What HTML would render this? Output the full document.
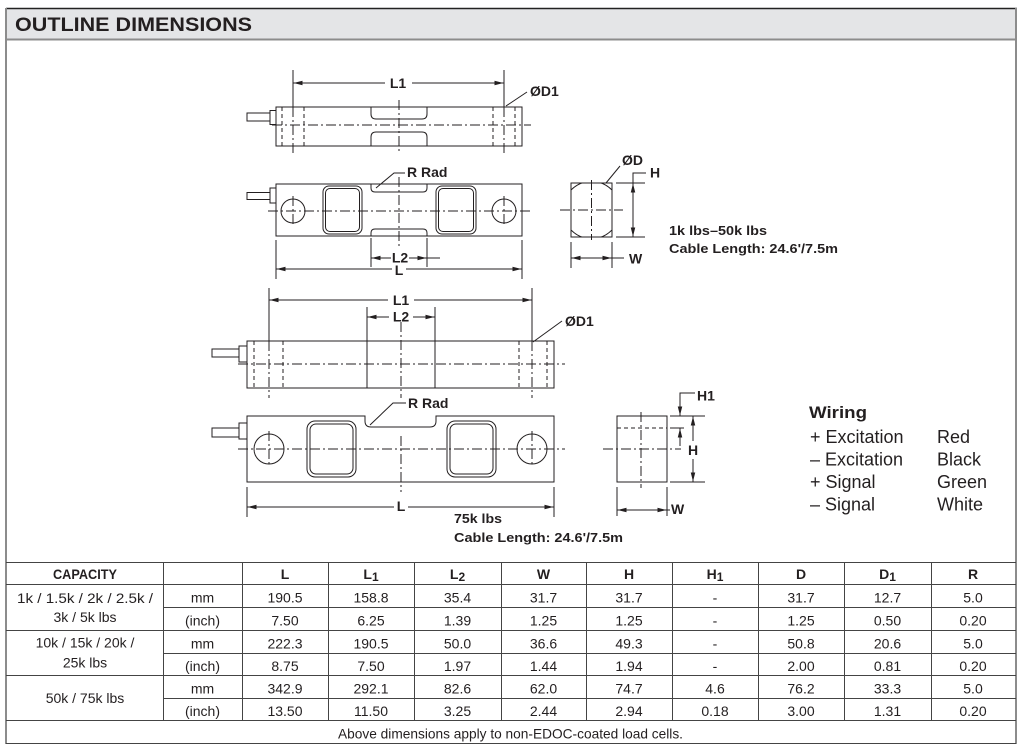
<!DOCTYPE html>
<html><head><meta charset="utf-8"><style>
html,body{margin:0;padding:0;background:#fff;width:1021px;height:750px;overflow:hidden}
svg{display:block}
text{font-family:"Liberation Sans",Arial,sans-serif;fill:#231f20}
.b{font-weight:bold}
.ln line,.ln rect,.ln path,.ln circle,.ln polyline{stroke:#231f20;stroke-width:1;fill:none}
.ln .cl{stroke-dasharray:10 3 2 3}
.ln .hd{stroke-dasharray:4 3}
.tl line{stroke:#444;stroke-width:1}
</style></head><body>
<svg width="1021" height="750" viewBox="0 0 1021 750" xmlns="http://www.w3.org/2000/svg">
<defs>
<marker id="a" viewBox="0 0 10 6" refX="10" refY="3" markerWidth="9" markerHeight="5.4" markerUnits="userSpaceOnUse" orient="auto"><path d="M0,0.5 L10,3 L0,5.5 z" fill="#231f20" stroke="none"/></marker>
<clipPath id="c1"><rect x="571" y="183" width="41" height="54"/></clipPath>
</defs>

<!-- header -->
<rect x="6" y="8.5" width="1010" height="30.5" fill="#e4e5e7"/>
<line x1="6" y1="8.5" x2="1017" y2="8.5" stroke="#222" stroke-width="1.5"/>
<line x1="6" y1="39.5" x2="1017" y2="39.5" stroke="#8c8c8c" stroke-width="2"/>
<line x1="6" y1="8" x2="6" y2="744" stroke="#8c8c8c" stroke-width="2"/>
<line x1="1016" y1="8" x2="1016" y2="744" stroke="#8c8c8c" stroke-width="2"/>
<text x="15" y="31" class="b" font-size="19" textLength="237" lengthAdjust="spacingAndGlyphs">OUTLINE DIMENSIONS</text>

<g class="ln">
<!-- ===== Drawing 1: top view ===== -->
<line x1="293" y1="70" x2="293" y2="107"/><line x1="293" y1="107" x2="293" y2="153" class="cl"/>
<line x1="504" y1="70" x2="504" y2="107"/><line x1="504" y1="107" x2="504" y2="153" class="cl"/>
<line x1="385" y1="83" x2="293.5" y2="83" marker-end="url(#a)"/>
<line x1="412" y1="83" x2="503.5" y2="83" marker-end="url(#a)"/>
<rect x="276" y="107" width="246" height="39"/>
<rect x="247" y="113" width="23" height="8"/>
<rect x="270" y="110.5" width="6" height="14"/>
<line x1="282" y1="107" x2="282" y2="146" class="hd"/>
<line x1="304" y1="107" x2="304" y2="146" class="hd"/>
<line x1="493" y1="107" x2="493" y2="146" class="hd"/>
<line x1="515" y1="107" x2="515" y2="146" class="hd"/>
<path d="M371,107 V114 Q371,119 376,119 H422 Q427,119 427,114 V107"/>
<path d="M371,146 V137 Q371,132 376,132 H422 Q427,132 427,137 V146"/>
<line x1="272" y1="125" x2="531" y2="125" class="cl"/>
<line x1="399" y1="100" x2="399" y2="153" class="cl"/>
<line x1="527" y1="92" x2="506" y2="106"/>

<!-- ===== Drawing 2: side view ===== -->
<rect x="276" y="184" width="246" height="52"/>
<path d="M371,184 V188 Q371,192 375,192 H423 Q427,192 427,188 V184"/>
<path d="M371,236 V233 Q371,229 375,229 H423 Q427,229 427,233 V236"/>
<rect x="247" y="192.5" width="23" height="7"/>
<rect x="270" y="188" width="6" height="15"/>
<rect x="323" y="186" width="39" height="48" rx="6"/>
<rect x="325.5" y="188.5" width="34" height="43" rx="4.5"/>
<rect x="436" y="186" width="40" height="48" rx="6"/>
<rect x="438.5" y="188.5" width="35" height="43" rx="4.5"/>
<circle cx="293" cy="211" r="12"/>
<circle cx="504" cy="211" r="12"/>
<line x1="293" y1="196" x2="293" y2="226" class="cl"/>
<line x1="504" y1="196" x2="504" y2="226" class="cl"/>
<line x1="268" y1="211" x2="532" y2="211" class="cl"/>
<line x1="399" y1="177" x2="399" y2="247" class="cl"/>
<polyline points="405,173 394,173 376,188"/>
<line x1="371" y1="238" x2="371" y2="267"/>
<line x1="427" y1="238" x2="427" y2="267"/>
<line x1="391" y1="258" x2="371.5" y2="258" marker-end="url(#a)"/>
<line x1="409" y1="258" x2="426.5" y2="258" marker-end="url(#a)"/>
<line x1="427" y1="258" x2="440" y2="258"/>
<line x1="276" y1="240" x2="276" y2="279"/>
<line x1="522" y1="240" x2="522" y2="279"/>
<line x1="392" y1="269" x2="276.5" y2="269" marker-end="url(#a)"/>
<line x1="406" y1="269" x2="521.5" y2="269" marker-end="url(#a)"/>

<!-- ===== Cross-section 1 ===== -->
<rect x="571" y="183" width="41" height="54"/>
<circle cx="591.5" cy="210" r="28.6" clip-path="url(#c1)"/>
<line x1="560" y1="210" x2="623" y2="210" class="cl"/>
<line x1="591.5" y1="180" x2="591.5" y2="240" class="cl"/>
<line x1="620" y1="166" x2="606" y2="183"/>
<line x1="616" y1="183" x2="645" y2="183"/>
<line x1="616" y1="237" x2="645" y2="237"/>
<polyline points="646,173 633,173 633,183"/>
<line x1="633" y1="210" x2="633" y2="183.5" marker-end="url(#a)"/>
<line x1="633" y1="210" x2="633" y2="236.5" marker-end="url(#a)"/>
<line x1="571" y1="242" x2="571" y2="268"/>
<line x1="612" y1="242" x2="612" y2="268"/>
<line x1="591" y1="258" x2="571.5" y2="258" marker-end="url(#a)"/>
<line x1="591" y1="258" x2="611.5" y2="258" marker-end="url(#a)"/>
<line x1="612" y1="258" x2="624" y2="258"/>

<!-- ===== Drawing 3: 75k top view ===== -->
<line x1="269" y1="288" x2="269" y2="341"/><line x1="269" y1="341" x2="269" y2="398" class="cl"/>
<line x1="532" y1="288" x2="532" y2="341"/><line x1="532" y1="341" x2="532" y2="398" class="cl"/>
<line x1="388" y1="300" x2="269.5" y2="300" marker-end="url(#a)"/>
<line x1="414" y1="300" x2="531.5" y2="300" marker-end="url(#a)"/>
<line x1="367" y1="307" x2="367" y2="388"/>
<line x1="435" y1="307" x2="435" y2="388"/>
<line x1="389" y1="317" x2="367.5" y2="317" marker-end="url(#a)"/>
<line x1="413" y1="317" x2="434.5" y2="317" marker-end="url(#a)"/>
<rect x="247" y="341" width="307" height="47"/>
<rect x="212" y="349" width="27" height="8"/>
<rect x="239" y="346" width="8" height="16"/>
<line x1="254" y1="341" x2="254" y2="388" class="hd"/>
<line x1="283" y1="341" x2="283" y2="388" class="hd"/>
<line x1="519" y1="341" x2="519" y2="388" class="hd"/>
<line x1="547" y1="341" x2="547" y2="388" class="hd"/>
<line x1="238" y1="364" x2="565" y2="364" class="cl"/>
<line x1="401" y1="322" x2="401" y2="398" class="cl"/>
<line x1="562" y1="321" x2="533" y2="342"/>

<!-- ===== Drawing 4: 75k side view ===== -->
<path d="M247,416 H365 V421 Q365,427 371,427 H430 Q436,427 436,421 V416 H554 V482 H247 Z"/>
<rect x="212" y="428" width="27" height="9"/>
<rect x="239" y="423" width="8" height="16"/>
<circle cx="269" cy="449" r="15"/>
<circle cx="532" cy="449" r="15"/>
<line x1="269" y1="431" x2="269" y2="467" class="cl"/>
<line x1="532" y1="431" x2="532" y2="467" class="cl"/>
<rect x="307" y="421" width="49" height="56" rx="8"/>
<rect x="310" y="424" width="43" height="50" rx="6"/>
<rect x="447" y="421" width="49" height="56" rx="8"/>
<rect x="450" y="424" width="43" height="50" rx="6"/>
<line x1="238" y1="449" x2="565" y2="449" class="cl"/>
<line x1="401" y1="436" x2="401" y2="492" class="cl"/>
<polyline points="406,403 393,403 370,425"/>
<line x1="247" y1="487" x2="247" y2="517"/>
<line x1="554" y1="487" x2="554" y2="517"/>
<line x1="394" y1="507" x2="247.5" y2="507" marker-end="url(#a)"/>
<line x1="408" y1="507" x2="553.5" y2="507" marker-end="url(#a)"/>

<!-- ===== Cross-section 2 ===== -->
<rect x="617" y="416" width="50" height="66"/>
<line x1="617" y1="428" x2="667" y2="428" class="hd"/>
<line x1="603" y1="449" x2="681" y2="449" class="cl"/>
<line x1="641" y1="412" x2="641" y2="488" class="cl"/>
<line x1="670" y1="416" x2="705" y2="416"/>
<line x1="670" y1="428" x2="684" y2="428"/>
<line x1="670" y1="482" x2="705" y2="482"/>
<polyline points="695,393 680,393 680,400"/>
<line x1="680" y1="398" x2="680" y2="415.5" marker-end="url(#a)"/>
<line x1="680" y1="446" x2="680" y2="428.5" marker-end="url(#a)"/>
<line x1="693" y1="441" x2="693" y2="416.5" marker-end="url(#a)"/>
<line x1="693" y1="459" x2="693" y2="481.5" marker-end="url(#a)"/>
<line x1="617" y1="487" x2="617" y2="516"/>
<line x1="667" y1="487" x2="667" y2="516"/>
<line x1="642" y1="510" x2="617.5" y2="510" marker-end="url(#a)"/>
<line x1="642" y1="510" x2="666.5" y2="510" marker-end="url(#a)"/>
<line x1="667" y1="510" x2="670" y2="510"/>
</g>

<!-- drawing labels -->
<g class="b" font-size="14">
<text x="398" y="88" text-anchor="middle">L1</text>
<text x="530" y="96">ØD1</text>
<text x="407" y="177">R Rad</text>
<text x="400" y="262.5" text-anchor="middle">L2</text>
<text x="399" y="275" text-anchor="middle">L</text>
<text x="622" y="165">ØD</text>
<text x="650" y="177.5">H</text>
<text x="629" y="263.5">W</text>
<text x="669" y="235" font-size="13" textLength="98" lengthAdjust="spacingAndGlyphs">1k lbs–50k lbs</text>
<text x="669" y="253" font-size="13" textLength="169" lengthAdjust="spacingAndGlyphs">Cable Length: 24.6'/7.5m</text>
<text x="401" y="305" text-anchor="middle">L1</text>
<text x="401" y="321.5" text-anchor="middle">L2</text>
<text x="565" y="326">ØD1</text>
<text x="408" y="408">R Rad</text>
<text x="401" y="511" text-anchor="middle">L</text>
<text x="454" y="523" font-size="13" textLength="48" lengthAdjust="spacingAndGlyphs">75k lbs</text>
<text x="454" y="542" font-size="13" textLength="169" lengthAdjust="spacingAndGlyphs">Cable Length: 24.6'/7.5m</text>
<text x="697" y="400.5">H1</text>
<text x="688" y="455">H</text>
<text x="671" y="514">W</text>
</g>

<!-- wiring -->
<text x="809" y="418" class="b" font-size="17" textLength="58" lengthAdjust="spacingAndGlyphs">Wiring</text>
<g font-size="18">
<text x="810" y="443">+ Excitation</text>
<text x="810" y="465.5">– Excitation</text>
<text x="810" y="488">+ Signal</text>
<text x="810" y="510.5">– Signal</text>
<text x="937" y="443">Red</text>
<text x="937" y="465.5">Black</text>
<text x="937" y="488">Green</text>
<text x="937" y="510.5">White</text>
</g>

<!-- table -->
<g class="tl">
<line x1="6" y1="562.5" x2="1016" y2="562.5"/>
<line x1="6" y1="584.5" x2="1016" y2="584.5"/>
<line x1="163" y1="607.5" x2="1016" y2="607.5"/>
<line x1="6" y1="630.5" x2="1016" y2="630.5"/>
<line x1="163" y1="653.5" x2="1016" y2="653.5"/>
<line x1="6" y1="675.5" x2="1016" y2="675.5"/>
<line x1="163" y1="698.5" x2="1016" y2="698.5"/>
<line x1="6" y1="720.5" x2="1016" y2="720.5"/>
<line x1="6" y1="743.5" x2="1016" y2="743.5"/>
<line x1="163.5" y1="562" x2="163.5" y2="720"/>
<line x1="242.5" y1="562" x2="242.5" y2="720"/>
<line x1="328.5" y1="562" x2="328.5" y2="720"/>
<line x1="414.5" y1="562" x2="414.5" y2="720"/>
<line x1="501.5" y1="562" x2="501.5" y2="720"/>
<line x1="586.5" y1="562" x2="586.5" y2="720"/>
<line x1="672.5" y1="562" x2="672.5" y2="720"/>
<line x1="758.5" y1="562" x2="758.5" y2="720"/>
<line x1="844.5" y1="562" x2="844.5" y2="720"/>
<line x1="931.5" y1="562" x2="931.5" y2="720"/>
</g>
<g class="b" font-size="14" text-anchor="middle">
<text x="85" y="579" textLength="64" lengthAdjust="spacingAndGlyphs">CAPACITY</text>
<text x="285" y="579">L</text>
<text x="371" y="579">L<tspan font-size="12" dy="2">1</tspan></text>
<text x="457.5" y="579">L<tspan font-size="12" dy="2">2</tspan></text>
<text x="543.5" y="579">W</text>
<text x="629" y="579">H</text>
<text x="715" y="579">H<tspan font-size="12" dy="2">1</tspan></text>
<text x="801" y="579">D</text>
<text x="887.5" y="579">D<tspan font-size="12" dy="2">1</tspan></text>
<text x="973" y="579">R</text>
</g>
<g font-size="14" text-anchor="middle">
<text x="85" y="603" textLength="136" lengthAdjust="spacingAndGlyphs">1k / 1.5k / 2k / 2.5k /</text>
<text x="85" y="622">3k / 5k lbs</text>
<text x="85" y="647.5">10k / 15k / 20k /</text>
<text x="85" y="667.5">25k lbs</text>
<text x="85" y="703">50k / 75k lbs</text>

<text x="202.5" y="602.5">mm</text><text x="202.5" y="625.5">(inch)</text>
<text x="202.5" y="648.5">mm</text><text x="202.5" y="671">(inch)</text>
<text x="202.5" y="693.5">mm</text><text x="202.5" y="716">(inch)</text>

<text x="285" y="602.5">190.5</text><text x="285" y="625.5">7.50</text><text x="285" y="648.5">222.3</text><text x="285" y="671">8.75</text><text x="285" y="693.5">342.9</text><text x="285" y="716">13.50</text>
<text x="371" y="602.5">158.8</text><text x="371" y="625.5">6.25</text><text x="371" y="648.5">190.5</text><text x="371" y="671">7.50</text><text x="371" y="693.5">292.1</text><text x="371" y="716">11.50</text>
<text x="457.5" y="602.5">35.4</text><text x="457.5" y="625.5">1.39</text><text x="457.5" y="648.5">50.0</text><text x="457.5" y="671">1.97</text><text x="457.5" y="693.5">82.6</text><text x="457.5" y="716">3.25</text>
<text x="543.5" y="602.5">31.7</text><text x="543.5" y="625.5">1.25</text><text x="543.5" y="648.5">36.6</text><text x="543.5" y="671">1.44</text><text x="543.5" y="693.5">62.0</text><text x="543.5" y="716">2.44</text>
<text x="629" y="602.5">31.7</text><text x="629" y="625.5">1.25</text><text x="629" y="648.5">49.3</text><text x="629" y="671">1.94</text><text x="629" y="693.5">74.7</text><text x="629" y="716">2.94</text>
<text x="715" y="602.5">-</text><text x="715" y="625.5">-</text><text x="715" y="648.5">-</text><text x="715" y="671">-</text><text x="715" y="693.5">4.6</text><text x="715" y="716">0.18</text>
<text x="801" y="602.5">31.7</text><text x="801" y="625.5">1.25</text><text x="801" y="648.5">50.8</text><text x="801" y="671">2.00</text><text x="801" y="693.5">76.2</text><text x="801" y="716">3.00</text>
<text x="887.5" y="602.5">12.7</text><text x="887.5" y="625.5">0.50</text><text x="887.5" y="648.5">20.6</text><text x="887.5" y="671">0.81</text><text x="887.5" y="693.5">33.3</text><text x="887.5" y="716">1.31</text>
<text x="973" y="602.5">5.0</text><text x="973" y="625.5">0.20</text><text x="973" y="648.5">5.0</text><text x="973" y="671">0.20</text><text x="973" y="693.5">5.0</text><text x="973" y="716">0.20</text>

<text x="510.5" y="738.5" textLength="345" lengthAdjust="spacingAndGlyphs">Above dimensions apply to non-EDOC-coated load cells.</text>
</g>
</svg>
</body></html>
